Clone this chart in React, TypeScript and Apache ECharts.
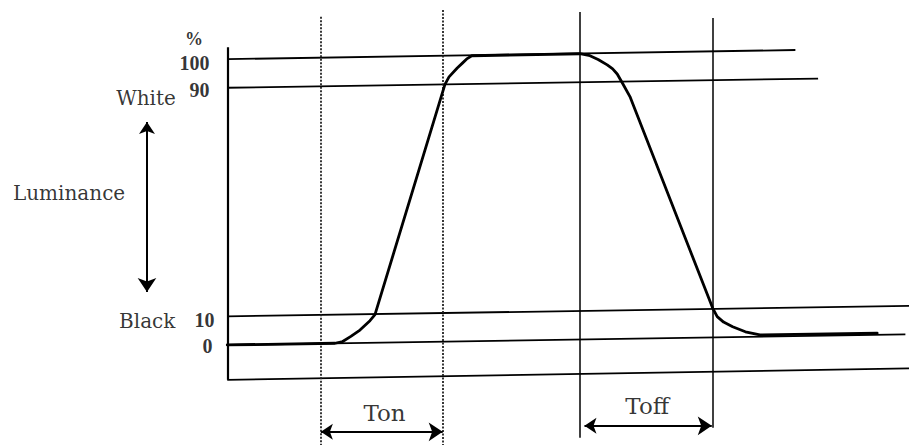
import React, { useEffect, useRef } from "react";
import * as echarts from "echarts";

// Time axis (arbitrary units) and luminance (%)
const curveT = [0, 11.85, 12.7, 13.6, 14.6, 15.7, 16.25, 23.95, 24.4, 25.3, 25.9, 26.4, 26.9, 38.8, 39.9, 40.8, 41.8, 42.4, 42.9, 43.5, 44.3, 53.4, 53.9, 54.6, 55.6, 57.0, 58.6, 71.5];
const curveL = [0, 0.6, 1.2, 3.0, 5.2, 8.5, 10.6, 91.2, 93.8, 96.9, 98.7, 100.2, 101.2, 101.9, 101.2, 99.9, 98, 96.6, 94.8, 91.5, 86.9, 12.9, 9.9, 8.0, 6.4, 4.6, 3.5, 4.1];

// Horizontal reference levels (value at the axis, end point at the right; the scan is slightly skewed)
const levelLeft = [100, 90, 10, 0, -12.2];
const levelRightT = [62.5, 65, 75, 74.6, 75];
const levelRight = [103.2, 93.2, 13.7, 3.7, -8.2];

// Vertical timing markers
const markerT = [10.3, 23.7, 38.8, 53.4];
const markerTop = [114.8, 117.2, 116.5, 114.4];
const markerBottom = [-35, -35, -32.5, -29];
const markerDotted = [true, true, false, false];

// Y axis line
const axisTop = 104.2;
const axisBottom = -12.2;

// Tick labels
const tickLabels = ["100", "90", "10", "0"];
const tickY = [98.8, 89.2, 8.9, -0.5];
const tickX = [-1.9, -1.9, -1.35, -1.57];

// Interval arrows
const tonRange = [10.3, 23.7];
const tonY = -30.4;
const toffRange = [39.3, 53.3];
const toffY = -28.3;
const lumArrowT = -8.83;
const lumArrowRange = [78, 18.5];

const textFont = "DejaVu Serif";

export default function App() {
  const ref = useRef<HTMLDivElement>(null);
  useEffect(() => {
    document.body.style.margin = "0";
    const chart = echarts.init(ref.current!, null, { renderer: "svg" });
    const ink = "#000";

    const levelLines = levelLeft.map((v, i) => ({
      coords: [
        [0, v],
        [levelRightT[i], levelRight[i]],
      ],
    }));
    const dottedLines = markerT
      .map((t, i) => ({ t, i }))
      .filter((m) => markerDotted[m.i])
      .map((m) => ({ coords: [[m.t, markerTop[m.i]], [m.t, markerBottom[m.i]]] }));
    const solidLines = markerT
      .map((t, i) => ({ t, i }))
      .filter((m) => !markerDotted[m.i])
      .map((m) => ({ coords: [[m.t, markerTop[m.i]], [m.t, markerBottom[m.i]]] }));

    const centerLabel = (name: string, x: number, y: number, size: number) => ({
      name,
      value: [x, y],
      label: { fontSize: size },
    });

    chart.setOption({
      animation: false,
      grid: { left: 0, right: 0, top: 2, bottom: 0 },
      xAxis: { type: "value", min: -25, max: 75, show: false },
      yAxis: { type: "value", min: -35, max: 120, show: false },
      series: [
        {
          type: "lines",
          coordinateSystem: "cartesian2d",
          silent: true,
          polyline: false,
          lineStyle: { color: ink, width: 1.8, opacity: 1 },
          data: levelLines,
        },
        {
          type: "lines",
          coordinateSystem: "cartesian2d",
          silent: true,
          lineStyle: { color: "#222", width: 1.8, type: [2, 1.5], opacity: 1 },
          data: dottedLines,
        },
        {
          type: "lines",
          coordinateSystem: "cartesian2d",
          silent: true,
          lineStyle: { color: ink, width: 1.5, opacity: 1 },
          data: solidLines,
        },
        {
          type: "lines",
          coordinateSystem: "cartesian2d",
          silent: true,
          lineStyle: { color: ink, width: 2.2, opacity: 1 },
          data: [{ coords: [[0, axisTop], [0, axisBottom]] }],
        },
        {
          type: "lines",
          coordinateSystem: "cartesian2d",
          silent: true,
          symbol: ["arrow", "arrow"],
          symbolSize: [12, 14],
          lineStyle: { color: ink, width: 2, opacity: 1 },
          data: [
            { coords: [[tonRange[0], tonY], [tonRange[1], tonY]] },
            { coords: [[toffRange[0], toffY], [toffRange[1], toffY]] },
            { coords: [[lumArrowT, lumArrowRange[0]], [lumArrowT, lumArrowRange[1]]] },
          ],
        },
        {
          type: "line",
          silent: true,
          showSymbol: false,
          smooth: false,
          lineStyle: { color: ink, width: 2.8, join: "round", cap: "round" },
          data: curveT.map((t, i) => [t, curveL[i]]),
          z: 5,
        },
        {
          type: "scatter",
          silent: true,
          symbolSize: 1,
          itemStyle: { color: "rgba(0,0,0,0)" },
          label: {
            show: true,
            position: "left",
            distance: 0,
            color: ink,
            fontFamily: "Liberation Serif",
            fontWeight: "bold",
            fontSize: 20,
            formatter: (p: any) => p.name,
          },
          data: tickLabels.map((s, i) => ({ name: s, value: [tickX[i], tickY[i]] })),
        },
        {
          type: "scatter",
          silent: true,
          symbolSize: 1,
          itemStyle: { color: "rgba(0,0,0,0)" },
          label: {
            show: true,
            position: "inside",
            color: ink,
            fontFamily: textFont,
            fontSize: 20,
            formatter: (p: any) => p.name,
          },
          data: [
            centerLabel("Luminance", -17.4, 53.2, 20),
            centerLabel("White", -8.94, 86.4, 20),
            centerLabel("Black", -8.8, 8.4, 20),
            centerLabel("Ton", 17.3, -23.8, 23),
            centerLabel("Toff", 46.2, -21.3, 23),
            {
              name: "%",
              value: [-3.66, 107.2],
              label: { fontSize: 18, fontWeight: "bold", fontFamily: "Liberation Serif" },
            },
          ],
        },
      ],
    });
    return () => chart.dispose();
  }, []);
  return <div ref={ref} style={{ width: 909, height: 445, background: "#fff" }} />;
}
